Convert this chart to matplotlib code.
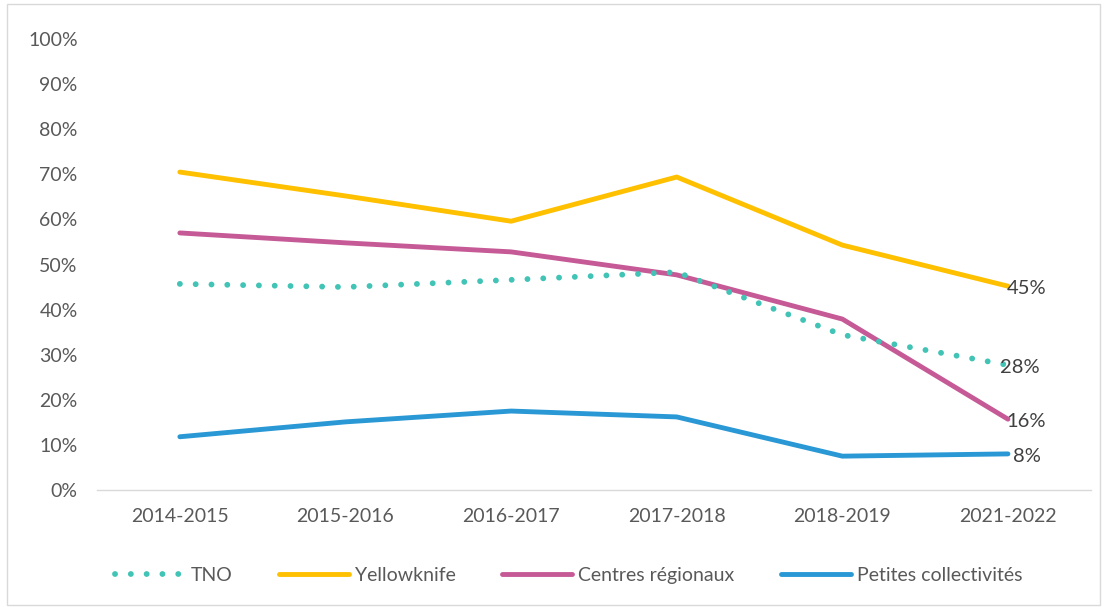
import matplotlib.pyplot as plt
from matplotlib.patches import Rectangle

plt.rcParams['font.family'] = ['Lato', 'DejaVu Sans']

years = ["2014-2015", "2015-2016", "2016-2017", "2017-2018", "2018-2019", "2021-2022"]
tno = [45.7, 45.0, 46.6, 48.3, 34.4, 27.7]
yellowknife = [70.5, 65.2, 59.6, 69.4, 54.3, 45.2]
centres = [57.0, 54.8, 52.8, 47.7, 37.9, 15.7]
petites = [11.8, 15.1, 17.5, 16.2, 7.5, 8.0]
end_labels = ["28%", "45%", "16%", "8%"]
label_dx = [0.07, 0.11, 0.11, 0.115]

fig = plt.figure(figsize=(11.04, 6.07), dpi=100)
ax = fig.add_axes([0.0879, 0.1928, 0.9001, 0.7429])

x = range(len(years))
ax.plot(x, tno, color='#41C3B5', lw=4.2, linestyle=(0, (0.01, 2.7)),
        dash_capstyle='round', label='TNO', zorder=3)
ax.plot(x, yellowknife, color='#FFC000', lw=3.5, solid_capstyle='round',
        label='Yellowknife', zorder=2)
ax.plot(x, centres, color='#C55A96', lw=3.5, solid_capstyle='round',
        label='Centres régionaux', zorder=2)
ax.plot(x, petites, color='#2998D5', lw=3.5, solid_capstyle='round',
        label='Petites collectivités', zorder=2)

last = len(years) - 1
for vals, lab, dx in zip([tno, yellowknife, centres, petites], end_labels, label_dx):
    ax.text(last + dx, vals[-1] - 0.6, lab, ha='center', va='center',
            fontsize=14.5, color='#404040', zorder=4)

ax.set_xlim(-0.5, last + 0.5)
ax.set_ylim(0, 100)
ax.set_yticks(range(0, 101, 10))
ax.set_yticklabels([f"{v}%" for v in range(0, 101, 10)])
ax.set_xticks(list(x))
ax.set_xticklabels(years)
ax.tick_params(length=0, labelsize=14, labelcolor='#595959')
ax.tick_params(axis='x', pad=13)
ax.tick_params(axis='y', pad=14)
for s in ['top', 'right', 'left']:
    ax.spines[s].set_visible(False)
ax.spines['bottom'].set_color('#D9D9D9')
ax.spines['bottom'].set_linewidth(1)

leg = fig.legend(loc='center', bbox_to_anchor=(0.515, 0.052), ncol=4, frameon=False,
                 fontsize=14, handlelength=3.6, columnspacing=2.4, handletextpad=0.3)
for t in leg.get_texts():
    t.set_color('#595959')

fig.patches.append(Rectangle((0.006, 0.004), 0.99, 0.99, transform=fig.transFigure,
                             fill=False, edgecolor='#D9D9D9', lw=1))

fig.savefig('out.png', dpi=100)
